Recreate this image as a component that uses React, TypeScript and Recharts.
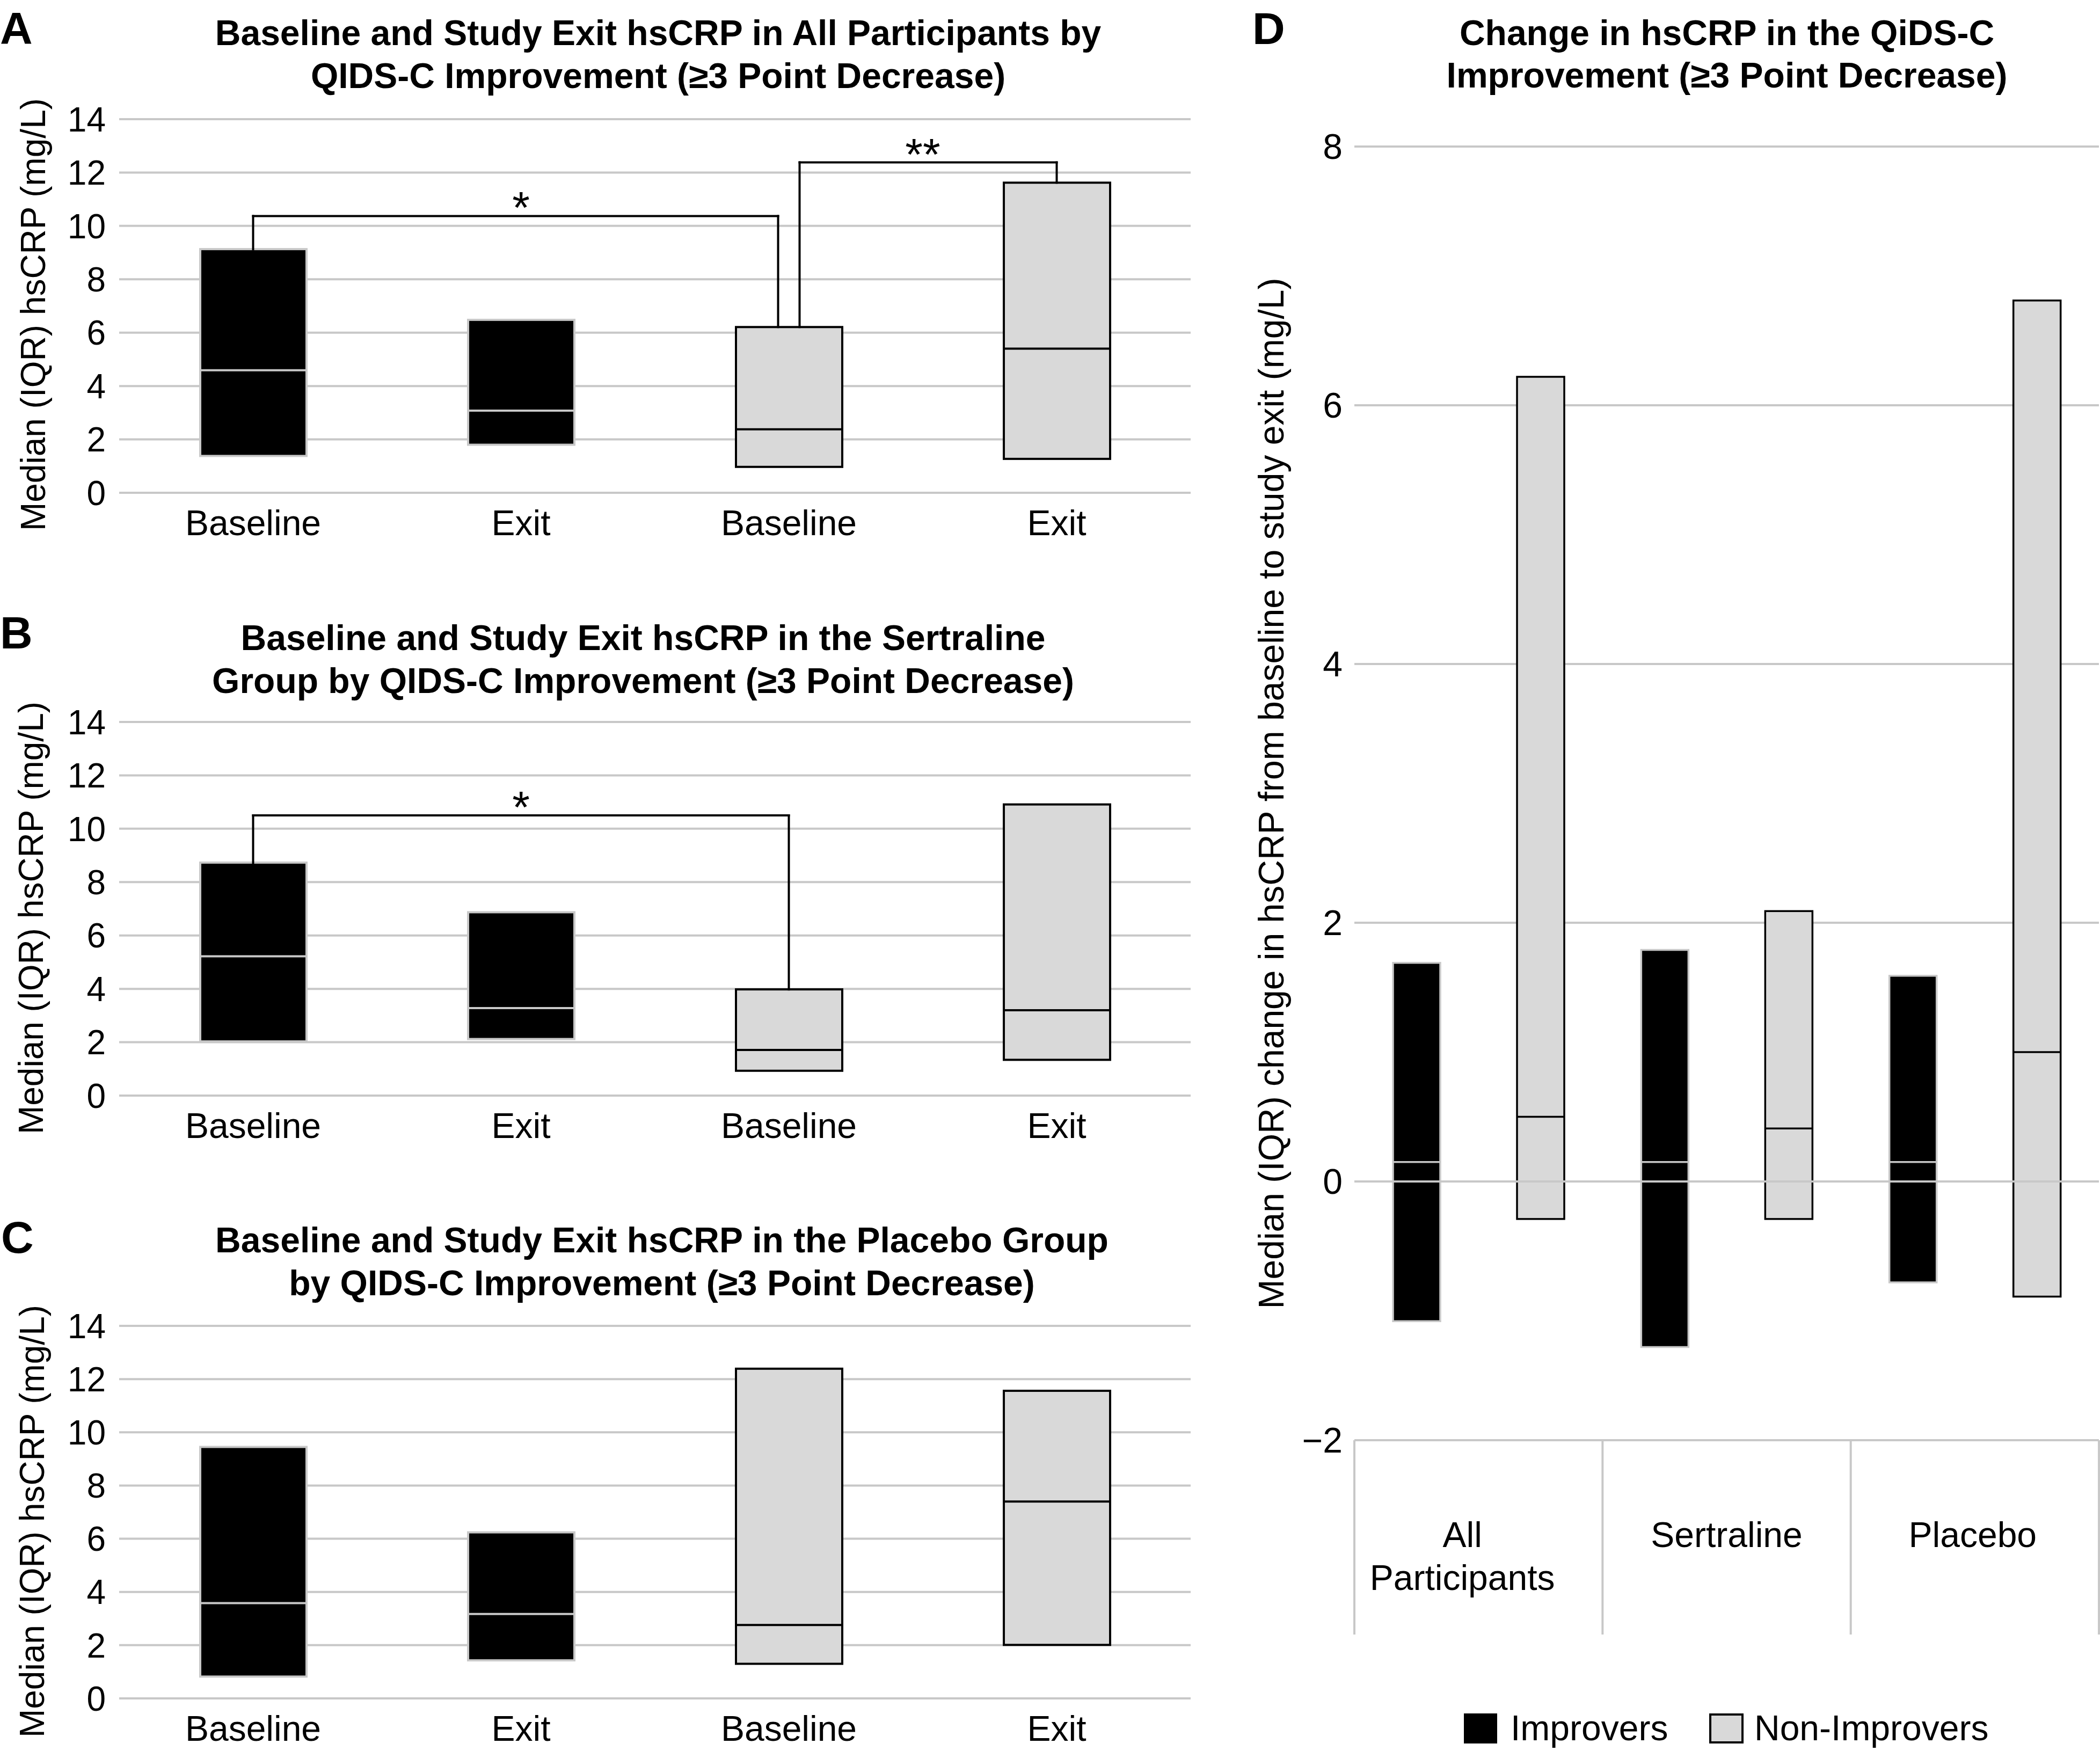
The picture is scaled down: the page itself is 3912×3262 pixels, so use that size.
import React from 'react';
import { BarChart, Bar, XAxis, YAxis, CartesianGrid, ReferenceLine } from 'recharts';

const FONT = "'Liberation Sans', Arial, Helvetica, sans-serif";

// ---------- Panels A-C: baseline / exit hsCRP boxes ----------
const boxKeys = ['imp-base', 'imp-exit', 'non-base', 'non-exit'];
const boxLabels = ['Baseline', 'Exit', 'Baseline', 'Exit'];
const boxGroups = ['imp', 'imp', 'non', 'non'];
const hsTicks = [0, 2, 4, 6, 8, 10, 12, 14];

const allQ1 = [1.38, 1.8, 0.97, 1.27];
const allMedian = [4.59, 3.08, 2.38, 5.4];
const allQ3 = [9.13, 6.48, 6.21, 11.62];

const sertQ1 = [2.03, 2.12, 0.93, 1.34];
const sertMedian = [5.22, 3.28, 1.71, 3.2];
const sertQ3 = [8.73, 6.87, 3.98, 10.91];

const placQ1 = [0.82, 1.43, 1.3, 2.01];
const placMedian = [3.58, 3.17, 2.76, 7.4];
const placQ3 = [9.45, 6.24, 12.39, 11.56];

const bracketsAll = [
  { from: 'imp-base', to: 'non-base', level: 10.37, mark: '*', fromDx: 0, toDx: -20 },
  { from: 'non-base', to: 'non-exit', level: 12.38, mark: '**', fromDx: 20, toDx: 0 },
];
const bracketsSert = [{ from: 'imp-base', to: 'non-base', level: 10.5, mark: '*', fromDx: 0, toDx: 0 }];
const bracketsPlac: any[] = [];

const titleAll = ['Baseline and Study Exit hsCRP in All Participants by', 'QIDS-C Improvement (\u22653 Point Decrease)'];
const titleSert = ['Baseline and Study Exit hsCRP in the Sertraline', 'Group by QIDS-C Improvement (\u22653 Point Decrease)'];
const titlePlac = ['Baseline and Study Exit hsCRP in the Placebo Group', 'by QIDS-C Improvement (\u22653 Point Decrease)'];
const yLabelBox = 'Median (IQR) hsCRP (mg/L)';

// ---------- Panel D: change in hsCRP ----------
const groupKeys = ['all', 'sert', 'plac'];
const groupLabelLines = [['All', 'Participants'], ['Sertraline'], ['Placebo']];
const groupLabelShift = [-30, 0, -4];
const impQ1 = [-1.08, -1.28, -0.78];
const impMedian = [0.15, 0.15, 0.15];
const impQ3 = [1.69, 1.79, 1.59];
const nonQ1 = [-0.29, -0.29, -0.89];
const nonMedian = [0.5, 0.41, 1.0];
const nonQ3 = [6.22, 2.09, 6.81];
const changeTicks = [-2, 0, 2, 4, 6, 8];
const seriesNames = ['Improvers', 'Non-Improvers'];
const titleChange = ['Change in hsCRP in the QiDS-C', 'Improvement (\u22653 Point Decrease)'];
const yLabelChange = 'Median (IQR) change in hsCRP from baseline to study exit (mg/L)';

const BLACK = '#000000';
const LIGHT = '#d9d9d9';
const GRID = '#c8c8c8';

const buildRows = (q1: number[], med: number[], q3: number[]) =>
  boxKeys.map((k, i) => ({ key: k, label: boxLabels[i], group: boxGroups[i], q1: q1[i], median: med[i], q3: q3[i] }));

const rowsAll = buildRows(allQ1, allMedian, allQ3);
const rowsSert = buildRows(sertQ1, sertMedian, sertQ3);
const rowsPlac = buildRows(placQ1, placMedian, placQ3);

const rowsChange = groupKeys.map((k, i) => ({
  key: k,
  impQ1: impQ1[i], impMed: impMedian[i], impQ3: impQ3[i],
  nonQ1: nonQ1[i], nonMed: nonMedian[i], nonQ3: nonQ3[i],
}));

function makeBoxShape(getLo: (p: any) => number, getMed: (p: any) => number, getHi: (p: any) => number, getGroup: (p: any) => string, sw: number) {
  return (props: any) => {
    const { x, y, width, height, payload } = props;
    if (x == null || y == null) return <g />;
    const g = getGroup(payload);
    const fill = g === 'imp' ? BLACK : LIGHT;
    const edge = g === 'imp' ? GRID : BLACK;
    const top = Math.min(y, y + height);
    const h = Math.abs(height);
    const lo = getLo(payload), hi = getHi(payload), med = getMed(payload);
    const my = top + (h * (hi - med)) / (hi - lo);
    return (
      <g>
        <rect x={x} y={top} width={width} height={h} fill={fill} stroke={edge} strokeWidth={sw} />
        <line x1={x} x2={x + width} y1={my} y2={my} stroke={edge} strokeWidth={sw} />
      </g>
    );
  };
}

const boxShape = makeBoxShape((p) => p.q1, (p) => p.median, (p) => p.q3, (p) => p.group, 4);
const impShape = makeBoxShape((p) => p.impQ1, (p) => p.impMed, (p) => p.impQ3, () => 'imp', 3.5);
const nonShape = makeBoxShape((p) => p.nonQ1, (p) => p.nonMed, (p) => p.nonQ3, () => 'non', 3.5);

const shiftedLine = (dx1: number, dx2: number) => (p: any) => (
  <line x1={p.x1 + dx1} y1={p.y1} x2={p.x2 + dx2} y2={p.y2} stroke={BLACK} strokeWidth={4} strokeLinecap="square" />
);

function bracketLines(rows: any[], brackets: any[]) {
  const out: any[] = [];
  brackets.forEach((b, i) => {
    const fr = rows.find((r) => r.key === b.from);
    const tr = rows.find((r) => r.key === b.to);
    out.push(
      <ReferenceLine key={`bl${i}`} segment={[{ x: b.from, y: fr.q3 }, { x: b.from, y: b.level }]} shape={shiftedLine(b.fromDx, b.fromDx)} />
    );
    out.push(
      <ReferenceLine
        key={`bh${i}`}
        segment={[{ x: b.from, y: b.level }, { x: b.to, y: b.level }]}
        shape={shiftedLine(b.fromDx, b.toDx)}
        label={{ value: b.mark, position: 'top', offset: -14, fontSize: 84, fill: BLACK, fontFamily: FONT }}
      />
    );
    out.push(
      <ReferenceLine key={`br${i}`} segment={[{ x: b.to, y: b.level }, { x: b.to, y: tr.q3 }]} shape={shiftedLine(b.toDx, b.toDx)} />
    );
  });
  return out;
}

const CatTick = (props: any) => {
  const { x, y, payload } = props;
  const label = boxLabels[boxKeys.indexOf(payload.value)];
  return (
    <text x={x} y={y} dy={79} textAnchor="middle" fontSize={66} fontFamily={FONT} fill={BLACK}>
      {label}
    </text>
  );
};

function BoxPanel({ rows, brackets, top, height, xAxisH }: any) {
  return (
    <div style={{ position: 'absolute', left: 0, top }}>
      <BarChart width={2222} height={height} data={rows} margin={{ top: 222, right: 4, bottom: 0, left: 0 }} barSize={198} style={{ fontFamily: FONT }}>
        <CartesianGrid vertical={false} stroke={GRID} strokeWidth={4} />
        <XAxis dataKey="key" type="category" axisLine={false} tickLine={false} tickSize={0} tickMargin={0} height={xAxisH} interval={0} tick={<CatTick />} />
        <YAxis
          type="number"
          domain={[0, 14]}
          ticks={hsTicks}
          interval={0}
          width={222}
          axisLine={false}
          tickLine={false}
          tickSize={0}
          tickMargin={25}
          tick={{ fontSize: 64, fill: BLACK, fontFamily: FONT }}
        />
        <Bar dataKey={(d: any) => [d.q1, d.q3]} shape={boxShape} isAnimationActive={false} />
        {bracketLines(rows, brackets)}
      </BarChart>
    </div>
  );
}

const D_W = 1612;
const D_YW = 223;
const D_MR = 2;
const D_BAND = (D_W - D_YW - D_MR) / groupKeys.length;

const GroupTick = (props: any) => {
  const { x, y, payload } = props;
  const i = groupKeys.indexOf(payload.value);
  const lines = groupLabelLines[i] || [];
  const tx = x + (groupLabelShift[i] || 0);
  return (
    <g>
      <line x1={x - D_BAND / 2} x2={x - D_BAND / 2} y1={y} y2={y + 362} stroke={GRID} strokeWidth={4} />
      {i === groupKeys.length - 1 && <line x1={x + D_BAND / 2} x2={x + D_BAND / 2} y1={y} y2={y + 362} stroke={GRID} strokeWidth={4} />}
      <text x={tx} y={y + 199} textAnchor="middle" fontSize={66} fontFamily={FONT} fill={BLACK}>
        {lines.map((l, j) => (
          <tspan key={j} x={tx} dy={j === 0 ? 0 : 80}>
            {l}
          </tspan>
        ))}
      </text>
    </g>
  );
};

function ChangePanel() {
  return (
    <div style={{ position: 'absolute', left: 2300, top: 0 }}>
      <BarChart width={D_W} height={3262} data={rowsChange} margin={{ top: 273, right: D_MR, bottom: 0, left: 0 }} barSize={88} barGap={143} style={{ fontFamily: FONT }}>
        <CartesianGrid vertical={false} stroke={GRID} strokeWidth={4} />
        <XAxis dataKey="key" type="category" axisLine={{ stroke: GRID, strokeWidth: 4 }} tickLine={false} tickSize={0} tickMargin={0} height={579} interval={0} tick={<GroupTick />} />
        <YAxis
          type="number"
          domain={[-2, 8]}
          ticks={changeTicks}
          interval={0}
          width={D_YW}
          axisLine={false}
          tickLine={false}
          tickSize={0}
          tickMargin={22}
          tickFormatter={(v: number) => (v < 0 ? `\u2212${Math.abs(v)}` : String(v))}
          tick={{ fontSize: 66, fill: BLACK, fontFamily: FONT }}
        />
        <Bar name={seriesNames[0]} dataKey={(d: any) => [d.impQ1, d.impQ3]} shape={impShape} isAnimationActive={false} />
        <Bar name={seriesNames[1]} dataKey={(d: any) => [d.nonQ1, d.nonQ3]} shape={nonShape} isAnimationActive={false} />
        <ReferenceLine y={0} stroke={GRID} strokeWidth={4} />
      </BarChart>
    </div>
  );
}

const TitleText = ({ x, y, children }: any) => (
  <text x={x} y={y} textAnchor="middle" fontSize={66} fontWeight="bold" fontFamily={FONT} fill={BLACK}>
    {children}
  </text>
);

const Letter = ({ x, y, children }: any) => (
  <text x={x} y={y} fontSize={84} fontWeight="bold" fontFamily={FONT} fill={BLACK}>
    {children}
  </text>
);

const VLabel = ({ cx, cy, size, children }: any) => (
  <text transform={`translate(${cx},${cy}) rotate(-90)`} textAnchor="middle" dominantBaseline="central" fontSize={size} fontFamily={FONT} fill={BLACK}>
    {children}
  </text>
);

export default function App() {
  return (
    <div style={{ position: 'absolute', left: 0, top: 0, width: 3912, height: 3262, background: '#fff', overflow: 'hidden', fontFamily: FONT }}>
      <BoxPanel rows={rowsAll} brackets={bracketsAll} top={0} height={1030} xAxisH={112} />
      <BoxPanel rows={rowsSert} brackets={bracketsSert} top={1123} height={1030} xAxisH={112} />
      <BoxPanel rows={rowsPlac} brackets={bracketsPlac} top={2248} height={1014} xAxisH={98} />
      <ChangePanel />
      <svg width={3912} height={3262} style={{ position: 'absolute', left: 0, top: 0, pointerEvents: 'none' }}>
        <Letter x={0} y={82}>A</Letter>
        <Letter x={0} y={1208}>B</Letter>
        <Letter x={2} y={2334}>C</Letter>
        <Letter x={2333} y={82}>D</Letter>

        <TitleText x={1226} y={84}>{titleAll[0]}</TitleText>
        <TitleText x={1226} y={164}>{titleAll[1]}</TitleText>
        <TitleText x={1198} y={1211}>{titleSert[0]}</TitleText>
        <TitleText x={1198} y={1291}>{titleSert[1]}</TitleText>
        <TitleText x={1233} y={2333}>{titlePlac[0]}</TitleText>
        <TitleText x={1233} y={2413}>{titlePlac[1]}</TitleText>
        <TitleText x={3217} y={84}>{titleChange[0]}</TitleText>
        <TitleText x={3217} y={163}>{titleChange[1]}</TitleText>

        <VLabel cx={62} cy={586} size={64}>{yLabelBox}</VLabel>
        <VLabel cx={58} cy={1710} size={64}>{yLabelBox}</VLabel>
        <VLabel cx={60} cy={2834} size={64}>{yLabelBox}</VLabel>
        <VLabel cx={2368} cy={1478} size={66}>{yLabelChange}</VLabel>

        <rect x={2727} y={3192} width={62} height={56} fill={BLACK} />
        <text x={2814} y={3242} fontSize={66} fontFamily={FONT} fill={BLACK}>{seriesNames[0]}</text>
        <rect x={3186} y={3194} width={60} height={52} fill={LIGHT} stroke={BLACK} strokeWidth={4} />
        <text x={3268} y={3242} fontSize={66} fontFamily={FONT} fill={BLACK}>{seriesNames[1]}</text>
      </svg>
    </div>
  );
}
